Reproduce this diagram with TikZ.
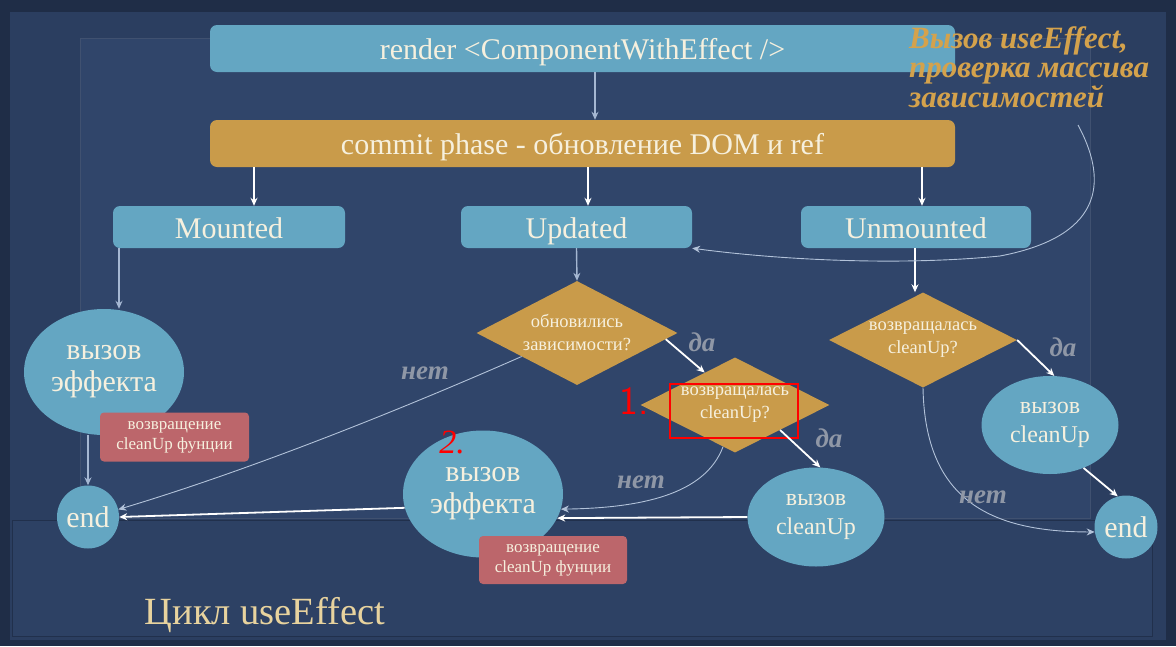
\documentclass[tikz,border=0pt]{standalone}
\usepackage{fontspec}
\setmainfont{Liberation Serif}
\usetikzlibrary{shapes.geometric, arrows.meta}

\definecolor{bgdark}{HTML}{1F2D47}
\definecolor{bgframe}{HTML}{2B3E60}
\definecolor{bgpanel}{HTML}{30456A}
\definecolor{bglow}{HTML}{2D4164}
\definecolor{boxblue}{HTML}{64A6C2}
\definecolor{boxgold}{HTML}{C99B4A}
\definecolor{boxrose}{HTML}{BC666B}
\definecolor{cream}{HTML}{F6F0DE}
\definecolor{titlegold}{HTML}{E8D39E}
\definecolor{notegold}{HTML}{D4A24C}
\definecolor{lblgray}{HTML}{8F97A6}
\definecolor{arrowlight}{HTML}{A5B7D2}

\tikzset{
  box/.style={rounded corners=7pt, fill=boxblue, text=cream, inner sep=0pt,
    text height=22pt, text depth=0pt, font=\fontsize{30}{32}\selectfont},
  oval/.style={ellipse, fill=boxblue, text=cream, align=center, inner sep=0pt},
  rhomb/.style={diamond, aspect=2, fill=boxgold, text=cream, align=center, inner sep=0pt,
    font=\fontsize{18.5}{23}\selectfont},
  retbox/.style={rounded corners=4pt, fill=boxrose, text=cream, align=center, inner sep=0pt,
    minimum width=149pt, minimum height=49pt, font=\fontsize{17}{20}\selectfont},
  wline/.style={->, white, line width=1.8pt},
  lline/.style={->, arrowlight, line width=1.4pt},
  tline/.style={->, arrowlight!85!white, line width=0.9pt},
  lbl/.style={lblgray, font=\fontsize{27}{27}\selectfont\bfseries\itshape},
  redmark/.style={red, font=\fontsize{40}{40}\selectfont\sffamily}
}

\begin{document}
\begin{tikzpicture}[x=1pt, y=-1pt, >={Stealth[length=8pt, width=7pt]}]

    % fond
    \useasboundingbox (0,0) rectangle (1176,646);
    \fill[bgdark] (0,0) rectangle (1176,646);
    \fill[bgframe] (10,12) rectangle (1166,640);
    \fill[bgpanel] (80,38) rectangle (1090,518);
    \draw[bgframe!90!white, line width=0.6pt] (80,38) rectangle (1090,518);
    \fill[bglow] (12,520) rectangle (1152,636);
    \draw[bgdark!80!bgframe, line width=1pt] (12,520) rectangle (1152,636);

    % etapes du rendu
    \node[box, minimum width=745pt, minimum height=47pt] (render) at (582.5,48.5) {render <ComponentWithEffect />};
    \node[box, fill=boxgold, minimum width=745pt, minimum height=47pt] (commit) at (582.5,143.5) {commit phase - обновление DOM и ref};

    \node[box, minimum width=232pt, minimum height=42pt] (mnt) at (229,227) {Mounted};
    \node[box, minimum width=231pt, minimum height=42pt] (upd) at (576.5,227) {Updated};
    \node[box, minimum width=230pt, minimum height=42pt] (unm) at (916,227) {Unmounted};

    % branche Mounted
    \node[oval, minimum width=160pt, minimum height=126pt, font=\fontsize{30}{32}\selectfont] (eff1) at (104,372) {вызов\\эффекта};
    \node[retbox] (ret1box) at (174.5,437) {возвращение\\cleanUp фунции};
    \node[oval, minimum width=62pt, minimum height=63pt, font=\fontsize{30}{30}\selectfont] (endA) at (88,517) {end};

    % branche Updated
    \node[rhomb, minimum width=201pt, minimum height=104pt] (dep) at (577,333) {обновились\\зависимости?};
    \node[rhomb, minimum width=189pt, minimum height=95pt] (ret1) at (735,405) {возвращалась\\cleanUp?};
    \node[oval, minimum width=160pt, minimum height=127pt, font=\fontsize{30}{32}\selectfont] (eff2) at (483,494) {вызов\\эффекта};
    \node[retbox, minimum width=148pt, minimum height=48pt] (ret2box) at (553,560) {возвращение\\cleanUp фунции};
    \node[oval, minimum width=137pt, minimum height=99pt, font=\fontsize{24}{29}\selectfont] (cup1) at (816,517) {вызов\\cleanUp};

    % branche Unmounted
    \node[rhomb, minimum width=188pt, minimum height=95pt] (ret2) at (923,340) {возвращалась\\cleanUp?};
    \node[oval, minimum width=137pt, minimum height=98pt, font=\fontsize{24}{29}\selectfont] (cup2) at (1050,425) {вызов\\cleanUp};
    \node[oval, minimum width=63pt, minimum height=63pt, font=\fontsize{30}{30}\selectfont] (endB) at (1126,527) {end};

    % textes
    \node[notegold, anchor=north west, align=left, inner sep=0pt,
          font=\fontsize{31}{29.5}\selectfont\bfseries\itshape] (note) at (909,26)
          {Вызов useEffect,\\проверка массива\\зависимостей};
    \node[titlegold, font=\fontsize{38.5}{38}\selectfont] (title) at (265,615) {Цикл useEffect};

    % reperes rouges
    \node[draw=red, line width=2pt, minimum width=128pt, minimum height=54pt] (hl) at (734,411) {};
    \node[redmark] (m1) at (634,401) {1.};
    \node[redmark, font=\fontsize{34}{34}\selectfont\itshape] (m2) at (452,442) {2.};

    % points de passage
    \coordinate (ax) at (595,0);
    \coordinate (mx) at (254,0);
    \coordinate (ux1) at (588,0);
    \coordinate (ux2) at (922,0);
    \coordinate (mdown) at (119,0);
    \coordinate (udown) at (915,0);
    \coordinate (notept) at (1078,125);

    % fleches principales
    \draw[lline] (render.south -| ax) -- (commit.north -| ax);
    \draw[wline] (commit.south -| mx) -- (mnt.north -| mx);
    \draw[wline] (commit.south -| ux1) -- (upd.north -| ux1);
    \draw[wline] (commit.south -| ux2) -- (unm.north -| ux2);

    \draw[lline] (mnt.south -| mdown) -- (eff1.north -| mdown);
    \draw[lline] (eff1.south -| endA) -- (endA.north);

    \draw[lline] (upd.south) -- (dep.north);
    \draw[wline] (dep.-4) -- (ret1.133);
    \draw[wline] (ret1.-29) -- (cup1.85);
    \draw[tline] (ret1.-106) .. controls (705,495) and (640,508) .. (eff2.-11);
    \draw[wline] (cup1.west) -- (eff2.-18);
    \draw[wline] (eff2.190) -- (endA.east);
    \draw[tline] (dep.203) .. controls (400,410) and (250,470) .. (endA.14);

    \draw[wline] (unm.south -| udown) -- (ret2.north -| udown);
    \draw[wline] (ret2.east) -- (cup2.85);
    \draw[wline] (cup2.-52) -- (endB.105);
    \draw[tline] (ret2.south) .. controls (925,500) and (990,532) .. (endB.189);

    \draw[tline] (notept) .. controls (1105,175) and (1110,235) .. (1000,256)
                 .. controls (900,266) and (780,260) .. (upd.south east);

    % etiquettes
    \node[lbl] (da1) at (702,342) {да};
    \node[lbl] (da2) at (829,438) {да};
    \node[lbl] (da3) at (1063,347) {да};
    \node[lbl] (net1) at (425,373) {нет};
    \node[lbl] (net2) at (641,482) {нет};
    \node[lbl] (net3) at (983,497) {нет};

\end{tikzpicture}
\end{document}
